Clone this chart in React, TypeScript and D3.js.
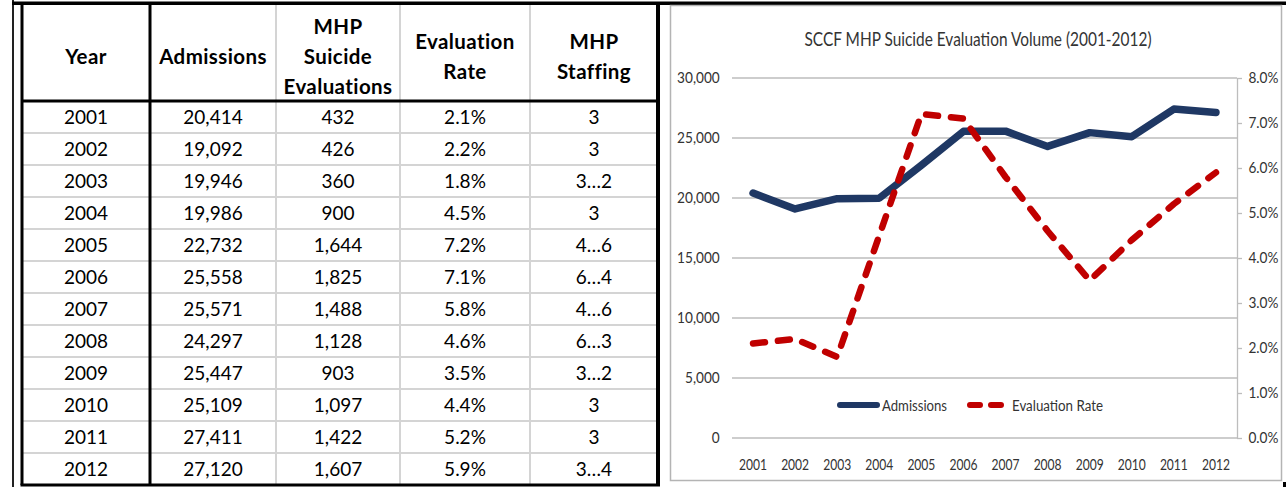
import React, { useEffect, useRef } from 'react';
import * as d3 from 'd3';

const years = [2001, 2002, 2003, 2004, 2005, 2006, 2007, 2008, 2009, 2010, 2011, 2012];
const admissions = [20414, 19092, 19946, 19986, 22732, 25558, 25571, 24297, 25447, 25109, 27411, 27120];
const evaluations = [432, 426, 360, 900, 1644, 1825, 1488, 1128, 903, 1097, 1422, 1607];
const evalRate = [2.1, 2.2, 1.8, 4.5, 7.2, 7.1, 5.8, 4.6, 3.5, 4.4, 5.2, 5.9];
const staffing = ['3', '3', '3…2', '3', '4…6', '6…4', '4…6', '6…3', '3…2', '3', '3', '3…4'];
const headers = [['Year'], ['Admissions'], ['MHP', 'Suicide', 'Evaluations'], ['Evaluation', 'Rate'], ['MHP', 'Staffing']];
const leftTicks = [0, 5000, 10000, 15000, 20000, 25000, 30000];
const rightTicks = [0, 1, 2, 3, 4, 5, 6, 7, 8];
const chartTitle = 'SCCF MHP Suicide Evaluation Volume (2001-2012)';

const App = () => {
    const svgRef = useRef(null);

    useEffect(() => {
        const svg = d3.select(svgRef.current);
        svg.selectAll('*').remove();

        // ---- table on the left ----
        const colEdges = [22, 150, 276, 400, 530, 658];
        const tableTop = 3;
        const headBottom = 101;
        const tableBottom = 485;
        const rowY = d3.scaleBand()
            .domain(years.map(String))
            .range([headBottom, tableBottom]);

        const table = svg.append('g')
            .style('font-family', 'Lato, "Open Sans", sans-serif')
            .style('font-variant-ligatures', 'none');

        // light grid
        years.slice(1).forEach(yr => {
            table.append('line')
                .attr('x1', colEdges[0]).attr('x2', colEdges[5])
                .attr('y1', rowY(String(yr))).attr('y2', rowY(String(yr)))
                .attr('stroke', '#d4d4d4').attr('stroke-width', 2);
        });
        [2, 3, 4].forEach(i => {
            table.append('line')
                .attr('x1', colEdges[i]).attr('x2', colEdges[i])
                .attr('y1', tableTop).attr('y2', tableBottom)
                .attr('stroke', '#d4d4d4').attr('stroke-width', 2);
        });

        // heavy borders
        const heavy = (x1, y1, x2, y2, w) => table.append('line')
            .attr('x1', x1).attr('y1', y1).attr('x2', x2).attr('y2', y2)
            .attr('stroke', '#000').attr('stroke-width', w);
        heavy(colEdges[0], tableTop, colEdges[0], tableBottom, 3);
        heavy(colEdges[1], tableTop, colEdges[1], tableBottom, 3);
        heavy(colEdges[5], tableTop, colEdges[5], tableBottom, 4);
        heavy(colEdges[0], headBottom, colEdges[5], headBottom, 3);
        heavy(colEdges[0] - 1.5, tableBottom, colEdges[5] + 2, tableBottom, 3);

        // header
        headers.forEach((lines, i) => {
            const cx = (colEdges[i] + colEdges[i + 1]) / 2;
            const lh = 30;
            const y0 = 57 - (lines.length - 1) * lh / 2;
            lines.forEach((t, j) => {
                table.append('text')
                    .attr('x', cx).attr('y', y0 + j * lh)
                    .attr('dy', '0.36em')
                    .attr('text-anchor', 'middle')
                    .style('font-size', '20.5px')
                    .style('font-weight', 'bold')
                    .style('letter-spacing', '0.4px')
                    .attr('fill', '#000')
                    .text(t);
            });
        });

        // body
        const fmt = d3.format(',');
        years.forEach((yr, r) => {
            const cells = [String(yr), fmt(admissions[r]), fmt(evaluations[r]), evalRate[r].toFixed(1) + '%', staffing[r]];
            cells.forEach((t, i) => {
                table.append('text')
                    .attr('x', (colEdges[i] + colEdges[i + 1]) / 2)
                    .attr('y', rowY(String(yr)) + rowY.bandwidth() / 2)
                    .attr('dy', '0.36em')
                    .attr('text-anchor', 'middle')
                    .style('font-size', '19px')
                    .attr('fill', '#000')
                    .text(t);
            });
        });

        // outer word-table lines
        svg.append('rect').attr('x', 12).attr('y', 0).attr('width', 2).attr('height', 487).attr('fill', '#222');
        svg.append('rect').attr('x', 12).attr('y', 1.5).attr('width', 1274).attr('height', 3.5).attr('fill', '#000');
        svg.append('rect').attr('x', 1283).attr('y', 482).attr('width', 3).attr('height', 5).attr('fill', '#000');

        // ---- chart on the right ----
        const font = 'Lato, "Open Sans", sans-serif';
        const chart = svg.append('g').style('font-family', font);
        chart.append('rect')
            .attr('x', 670.5).attr('y', 5.5).attr('width', 611).attr('height', 475)
            .attr('fill', '#fff').attr('stroke', '#b4b4b4').attr('stroke-width', 1.5);

        const plotLeft = 732, plotRight = 1237, plotTop = 78, plotBottom = 438;
        const x = d3.scaleBand().domain(years.map(String)).range([plotLeft, plotRight]);
        const cx = yr => x(String(yr)) + x.bandwidth() / 2;
        const yL = d3.scaleLinear().domain([0, 30000]).range([plotBottom, plotTop]);
        const yR = d3.scaleLinear().domain([0, 8]).range([plotBottom, plotTop]);

        const labelColor = '#333';
        const squeeze = 'scale(0.88,1)';

        // gridlines
        chart.append('g').selectAll('line')
            .data(leftTicks).enter().append('line')
            .attr('x1', plotLeft).attr('x2', plotRight)
            .attr('y1', d => yL(d)).attr('y2', d => yL(d))
            .attr('stroke', '#bdbdbd').attr('stroke-width', 1.3);

        // left axis
        const leftAxis = chart.append('g')
            .attr('transform', `translate(${plotLeft},0)`)
            .call(d3.axisLeft(yL).tickValues(leftTicks).tickSize(0).tickPadding(14).tickFormat(fmt));
        leftAxis.select('.domain').remove();
        leftAxis.selectAll('text')
            .attr('transform', squeeze)
            .style('font-size', '15.5px')
            .style('font-family', font)
            .attr('fill', labelColor);

        // right axis
        const rightAxis = chart.append('g')
            .attr('transform', `translate(${plotRight},0)`)
            .call(d3.axisRight(yR).tickValues(rightTicks).tickSize(5).tickSizeOuter(0).tickPadding(8).tickFormat(d => d.toFixed(1) + '%'));
        rightAxis.select('.domain').attr('stroke', '#bdbdbd').attr('stroke-width', 1.3);
        rightAxis.selectAll('line').attr('stroke', '#bdbdbd').attr('stroke-width', 1.3);
        rightAxis.selectAll('text')
            .attr('transform', squeeze)
            .style('font-size', '15.5px')
            .style('font-family', font)
            .attr('fill', labelColor);

        // x labels
        const bottomAxis = chart.append('g')
            .attr('transform', `translate(0,${plotBottom})`)
            .call(d3.axisBottom(x).tickSize(0).tickPadding(21));
        bottomAxis.select('.domain').remove();
        bottomAxis.selectAll('text')
            .style('font-size', '15.5px')
            .style('font-family', font)
            .attr('fill', labelColor)
            .attr('textLength', 28)
            .attr('lengthAdjust', 'spacingAndGlyphs');

        // title
        chart.append('text')
            .attr('x', 978).attr('y', 46)
            .attr('text-anchor', 'middle')
            .attr('textLength', 347)
            .attr('lengthAdjust', 'spacingAndGlyphs')
            .style('font-size', '19px')
            .attr('fill', '#333')
            .text(chartTitle);

        // series
        const admLine = d3.line().x((d, i) => cx(years[i])).y(d => yL(d));
        const rateLine = d3.line().x((d, i) => cx(years[i])).y(d => yR(d));

        chart.append('path')
            .attr('d', admLine(admissions))
            .attr('fill', 'none')
            .attr('stroke', '#1f3864')
            .attr('stroke-width', 7.5)
            .attr('stroke-linejoin', 'round')
            .attr('stroke-linecap', 'round');

        chart.append('path')
            .attr('d', rateLine(evalRate))
            .attr('fill', 'none')
            .attr('stroke', '#c00000')
            .attr('stroke-width', 6.5)
            .attr('stroke-dasharray', '12 13')
            .attr('stroke-linejoin', 'round')
            .attr('stroke-linecap', 'round');

        // legend
        const legY = 405;
        chart.append('line')
            .attr('x1', 840).attr('x2', 877).attr('y1', legY).attr('y2', legY)
            .attr('stroke', '#1f3864').attr('stroke-width', 6).attr('stroke-linecap', 'round');
        chart.append('text')
            .attr('x', 882).attr('y', legY).attr('dy', '0.36em')
            .attr('textLength', 65).attr('lengthAdjust', 'spacingAndGlyphs')
            .style('font-size', '15.5px').attr('fill', labelColor)
            .text('Admissions');
        chart.append('line')
            .attr('x1', 970).attr('x2', 1001).attr('y1', legY).attr('y2', legY)
            .attr('stroke', '#c00000').attr('stroke-width', 6)
            .attr('stroke-dasharray', '10 11').attr('stroke-linecap', 'round');
        chart.append('text')
            .attr('x', 1012).attr('y', legY).attr('dy', '0.36em')
            .attr('textLength', 91).attr('lengthAdjust', 'spacingAndGlyphs')
            .style('font-size', '15.5px').attr('fill', labelColor)
            .text('Evaluation Rate');
    }, []);

    return (
        <div style={{ position: 'fixed', left: 0, top: 0, width: 1286, height: 487, background: '#fff' }}>
            <svg ref={svgRef} width={1286} height={487}></svg>
        </div>
    );
};

export default App;
